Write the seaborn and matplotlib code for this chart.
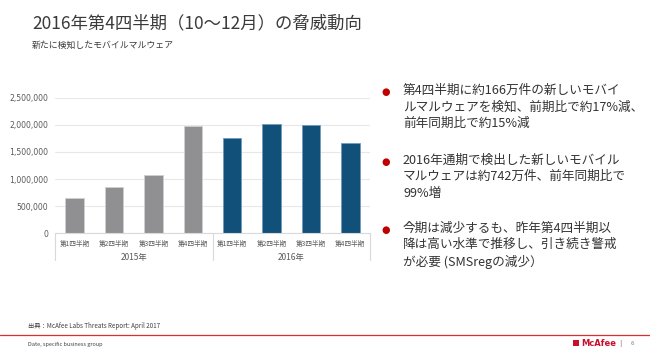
import matplotlib
matplotlib.use("Agg")
import matplotlib.pyplot as plt
import seaborn as sns
import pandas as pd
from matplotlib.patches import Rectangle

# ---- data ----
years = ["2015年", "2016年"]
quarters = ["第1四半期", "第2四半期", "第3四半期", "第4四半期"]
values_2015 = [645000, 850000, 1080000, 1980000]
values_2016 = [1760000, 2020000, 1990000, 1660000]
y_ticks = [0, 500000, 1000000, 1500000, 2000000, 2500000]

title = "2016年第4四半期（10～12月）の脅威動向"
subtitle = "新たに検知したモバイルマルウェア"
bullets = [
    "第4四半期に約166万件の新しいモバイ\nルマルウェアを検知、前期比で約17%減、\n前年同期比で約15%減",
    "2016年通期で検出した新しいモバイル\nマルウェアは約742万件、前年同期比で\n99%増",
    "今期は減少するも、昨年第4四半期以\n降は高い水準で推移し、引き続き警戒\nが必要 (SMSregの減少）",
]
source = "出典：McAfee Labs Threats Report: April 2017"
footer = "Date, specific business group"

sns.set_theme(style="white")
plt.rcParams["font.family"] = ["Noto Sans CJK JP", "DejaVu Sans"]

W, H = 650, 347
fig = plt.figure(figsize=(W / 100, H / 100), dpi=100)

df = pd.DataFrame({
    "key": [f"{y}-{q}" for y in years for q in quarters],
    "quarter": quarters * 2,
    "year": [y for y in years for _ in quarters],
    "value": values_2015 + values_2016,
})
palette = {k: ("#8F9094" if k.startswith("2015") else "#00538A") for k in df["key"]}

x0, x1 = 55, 370
ybot, ytop = 233.3, 97.7
ax = fig.add_axes([x0 / W, 1 - ybot / H, (x1 - x0) / W, (ybot - ytop) / H])
sns.barplot(data=df, x="key", y="value", hue="key", palette=palette, dodge=False,
            legend=False, width=0.47, ax=ax, linewidth=0.6,
            edgecolor="#D0D0D0")
for p, k in zip(ax.patches, df["key"]):
    if k.startswith("2016"):
        p.set_edgecolor("#6E9CC0")
ax.set_ylim(0, 2500000)
ax.set_xlim(-0.5, 7.5)
ax.set_yticks(y_ticks)
ax.set_yticklabels([f"{v:,}" for v in y_ticks], fontsize=5.6, color="#595959",
                   family=["DejaVu Sans"])
ax.tick_params(axis="y", length=0, pad=5)
ax.yaxis.grid(True, color="#E8E8E8", linewidth=0.8)
ax.set_axisbelow(True)
for s in ["top", "right", "left"]:
    ax.spines[s].set_visible(False)
ax.spines["bottom"].set_color("#D9D9D9")
ax.spines["bottom"].set_linewidth(0.8)
ax.set_xticks(range(8))
ax.set_xticklabels(df["quarter"], fontsize=4.8, color="#595959")
ax.tick_params(axis="x", length=0, pad=5)
ax.set_xlabel("")
ax.set_ylabel("")

# year group labels and separators
trans = ax.get_xaxis_transform()
for i, y in enumerate(years):
    ax.text(i * 4 + 1.5, -0.175, y, transform=trans, ha="center", va="center",
            fontsize=6, color="#595959")
for xs in [-0.5, 3.5, 7.5]:
    ax.plot([xs, xs], [0, -0.2], transform=trans, color="#D9D9D9",
            linewidth=0.8, clip_on=False)

# titles
fig.text(32 / W, 1 - 23 / H, title, fontsize=12.5, color="#3A3A3A",
         ha="left", va="center")
fig.text(32 / W, 1 - 45 / H, subtitle, fontsize=6.4, color="#3A3A3A",
         ha="left", va="center")

# bullets
bullet_y = [92, 162, 230]
for by, txt in zip(bullet_y, bullets):
    fig.text(386 / W, 1 - by / H, "●", fontsize=7, color="#C00000",
             ha="center", va="center", family=["DejaVu Sans"])
    fig.text(403 / W, 1 - (by - 8) / H, txt, fontsize=9.1, color="#333333",
             ha="left", va="top", linespacing=1.33)

# footer
fig.text(28 / W, 1 - 326 / H, source, fontsize=4.5, color="#404040",
         ha="left", va="center")
fig.add_artist(plt.Line2D([0, 1], [1 - 334.5 / H] * 2, color="#D9302C",
                          linewidth=0.9, transform=fig.transFigure))
fig.text(28 / W, 1 - 344 / H, footer, fontsize=4, color="#404040",
         ha="left", va="center")
fig.add_artist(Rectangle((573 / W, 1 - 347 / H + 1 / H), 6 / W, 6 / H,
                         transform=fig.transFigure, facecolor="#C8102E",
                         edgecolor="none"))
fig.text(581 / W, 1 - 343.5 / H, "McAfee", fontsize=6, color="#C8102E",
         fontweight="bold", ha="left", va="center", family=["DejaVu Sans"])
fig.text(620 / W, 1 - 343.5 / H, "|", fontsize=5, color="#808080",
         ha="center", va="center", family=["DejaVu Sans"])
fig.text(632 / W, 1 - 343.5 / H, "6", fontsize=4, color="#808080",
         ha="center", va="center", family=["DejaVu Sans"])

fig.savefig("out.png", dpi=100, facecolor="white")
